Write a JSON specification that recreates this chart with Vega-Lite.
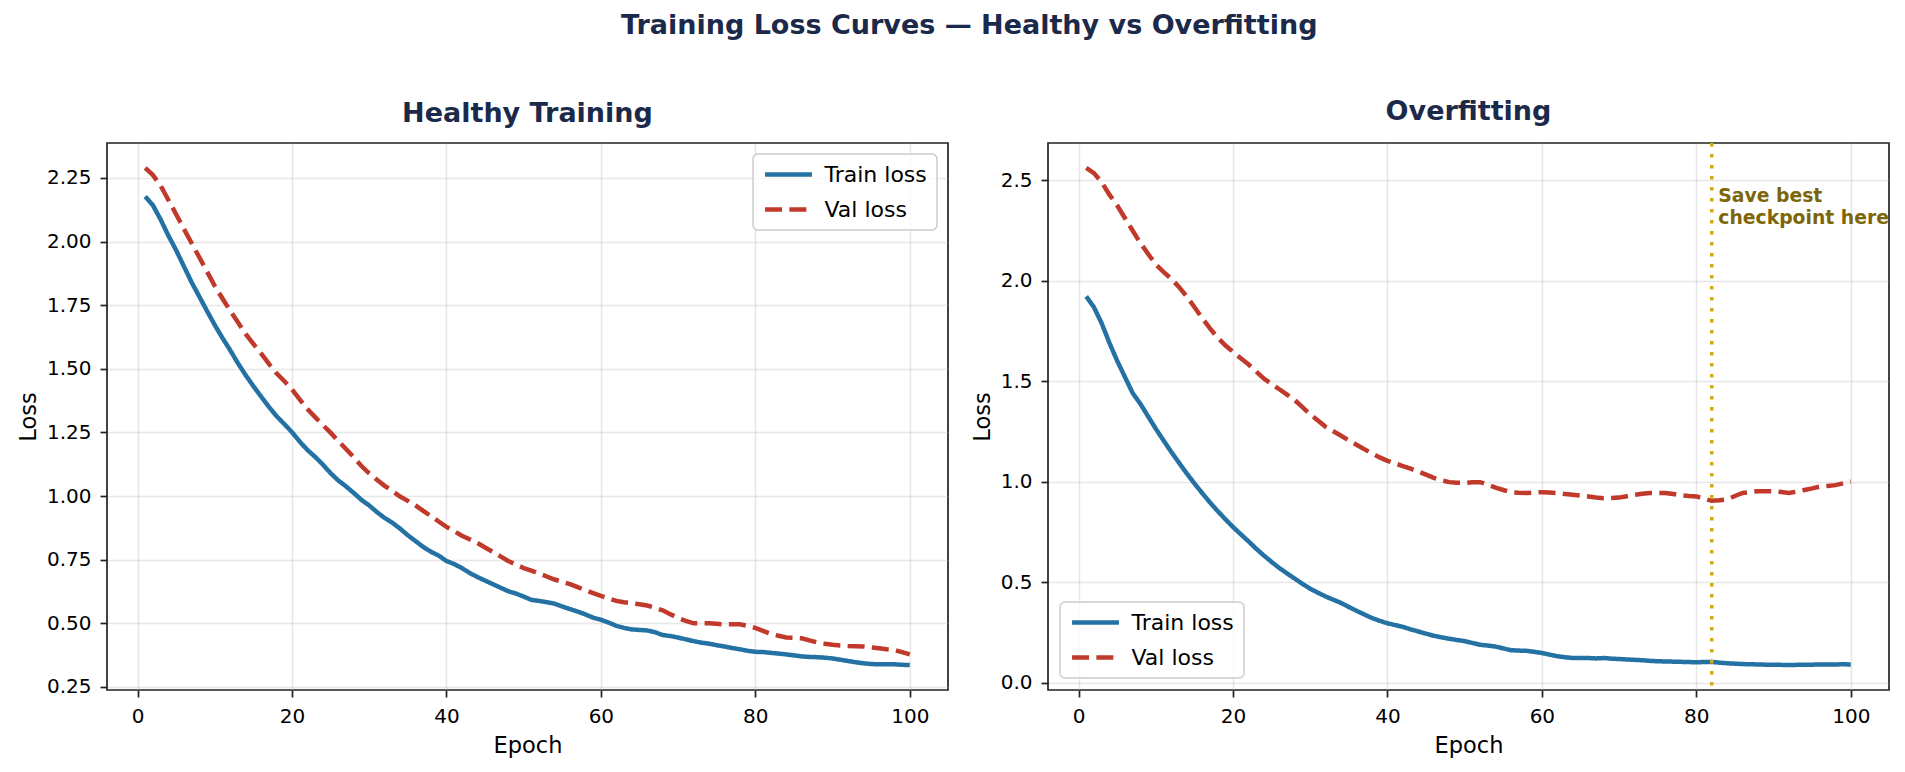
{
"$schema":"https://vega.github.io/schema/vega-lite/v6.json",
"background":"white",
"padding":{"left":16,"top":12,"right":16,"bottom":15},
"title":{"text":"Training Loss Curves — Healthy vs Overfitting","anchor":"middle","font":"DejaVu Sans","fontSize":27,"fontWeight":"bold","color":"#1b2a4a","offset":57,"dx":16},
"datasets":{
"healthy":[
{"epoch":1,"Train loss":2.177,"Val loss":2.289},{"epoch":2,"Train loss":2.142,"Val loss":2.261},{"epoch":3,"Train loss":2.086,"Val loss":2.219},{"epoch":4,"Train loss":2.023,"Val loss":2.163},{"epoch":5,"Train loss":1.966,"Val loss":2.107},{"epoch":6,"Train loss":1.903,"Val loss":2.05},{"epoch":7,"Train loss":1.84,"Val loss":1.994},{"epoch":8,"Train loss":1.784,"Val loss":1.938},{"epoch":9,"Train loss":1.727,"Val loss":1.882},{"epoch":10,"Train loss":1.672,"Val loss":1.826},
{"epoch":11,"Train loss":1.621,"Val loss":1.776},{"epoch":12,"Train loss":1.573,"Val loss":1.728},{"epoch":13,"Train loss":1.522,"Val loss":1.683},{"epoch":14,"Train loss":1.475,"Val loss":1.637},{"epoch":15,"Train loss":1.432,"Val loss":1.598},{"epoch":16,"Train loss":1.391,"Val loss":1.56},{"epoch":17,"Train loss":1.351,"Val loss":1.52},{"epoch":18,"Train loss":1.314,"Val loss":1.482},{"epoch":19,"Train loss":1.283,"Val loss":1.452},{"epoch":20,"Train loss":1.251,"Val loss":1.419},
{"epoch":21,"Train loss":1.214,"Val loss":1.38},{"epoch":22,"Train loss":1.181,"Val loss":1.342},{"epoch":23,"Train loss":1.154,"Val loss":1.31},{"epoch":24,"Train loss":1.124,"Val loss":1.279},{"epoch":25,"Train loss":1.09,"Val loss":1.249},{"epoch":26,"Train loss":1.061,"Val loss":1.216},{"epoch":27,"Train loss":1.038,"Val loss":1.185},{"epoch":28,"Train loss":1.012,"Val loss":1.152},{"epoch":29,"Train loss":0.985,"Val loss":1.118},{"epoch":30,"Train loss":0.963,"Val loss":1.089},
{"epoch":31,"Train loss":0.937,"Val loss":1.064},{"epoch":32,"Train loss":0.914,"Val loss":1.04},{"epoch":33,"Train loss":0.895,"Val loss":1.02},{"epoch":34,"Train loss":0.872,"Val loss":0.998},{"epoch":35,"Train loss":0.846,"Val loss":0.981},{"epoch":36,"Train loss":0.823,"Val loss":0.963},{"epoch":37,"Train loss":0.8,"Val loss":0.942},{"epoch":38,"Train loss":0.781,"Val loss":0.921},{"epoch":39,"Train loss":0.766,"Val loss":0.9},{"epoch":40,"Train loss":0.745,"Val loss":0.879},
{"epoch":41,"Train loss":0.733,"Val loss":0.862},{"epoch":42,"Train loss":0.717,"Val loss":0.844},{"epoch":43,"Train loss":0.698,"Val loss":0.83},{"epoch":44,"Train loss":0.682,"Val loss":0.816},{"epoch":45,"Train loss":0.668,"Val loss":0.798},{"epoch":46,"Train loss":0.654,"Val loss":0.781},{"epoch":47,"Train loss":0.64,"Val loss":0.763},{"epoch":48,"Train loss":0.626,"Val loss":0.745},{"epoch":49,"Train loss":0.617,"Val loss":0.731},{"epoch":50,"Train loss":0.605,"Val loss":0.717},
{"epoch":51,"Train loss":0.592,"Val loss":0.707},{"epoch":52,"Train loss":0.588,"Val loss":0.696},{"epoch":53,"Train loss":0.583,"Val loss":0.684},{"epoch":54,"Train loss":0.577,"Val loss":0.672},{"epoch":55,"Train loss":0.566,"Val loss":0.663},{"epoch":56,"Train loss":0.556,"Val loss":0.654},{"epoch":57,"Train loss":0.546,"Val loss":0.642},{"epoch":58,"Train loss":0.535,"Val loss":0.63},{"epoch":59,"Train loss":0.522,"Val loss":0.619},{"epoch":60,"Train loss":0.514,"Val loss":0.608},
{"epoch":61,"Train loss":0.503,"Val loss":0.598},{"epoch":62,"Train loss":0.49,"Val loss":0.588},{"epoch":63,"Train loss":0.482,"Val loss":0.583},{"epoch":64,"Train loss":0.476,"Val loss":0.579},{"epoch":65,"Train loss":0.474,"Val loss":0.575},{"epoch":66,"Train loss":0.472,"Val loss":0.57},{"epoch":67,"Train loss":0.465,"Val loss":0.561},{"epoch":68,"Train loss":0.454,"Val loss":0.551},{"epoch":69,"Train loss":0.45,"Val loss":0.536},{"epoch":70,"Train loss":0.444,"Val loss":0.521},
{"epoch":71,"Train loss":0.437,"Val loss":0.51},{"epoch":72,"Train loss":0.43,"Val loss":0.5},{"epoch":73,"Train loss":0.424,"Val loss":0.5},{"epoch":74,"Train loss":0.42,"Val loss":0.5},{"epoch":75,"Train loss":0.414,"Val loss":0.498},{"epoch":76,"Train loss":0.409,"Val loss":0.496},{"epoch":77,"Train loss":0.403,"Val loss":0.496},{"epoch":78,"Train loss":0.398,"Val loss":0.496},{"epoch":79,"Train loss":0.392,"Val loss":0.49},{"epoch":80,"Train loss":0.388,"Val loss":0.482},
{"epoch":81,"Train loss":0.387,"Val loss":0.47},{"epoch":82,"Train loss":0.384,"Val loss":0.458},{"epoch":83,"Train loss":0.381,"Val loss":0.451},{"epoch":84,"Train loss":0.378,"Val loss":0.444},{"epoch":85,"Train loss":0.374,"Val loss":0.443},{"epoch":86,"Train loss":0.37,"Val loss":0.441},{"epoch":87,"Train loss":0.368,"Val loss":0.433},{"epoch":88,"Train loss":0.367,"Val loss":0.425},{"epoch":89,"Train loss":0.365,"Val loss":0.42},{"epoch":90,"Train loss":0.362,"Val loss":0.416},
{"epoch":91,"Train loss":0.357,"Val loss":0.413},{"epoch":92,"Train loss":0.352,"Val loss":0.411},{"epoch":93,"Train loss":0.347,"Val loss":0.41},{"epoch":94,"Train loss":0.343,"Val loss":0.409},{"epoch":95,"Train loss":0.34,"Val loss":0.405},{"epoch":96,"Train loss":0.339,"Val loss":0.402},{"epoch":97,"Train loss":0.339,"Val loss":0.398},{"epoch":98,"Train loss":0.339,"Val loss":0.395},{"epoch":99,"Train loss":0.337,"Val loss":0.387},{"epoch":100,"Train loss":0.336,"Val loss":0.378}
],
"overfit":[
{"epoch":1,"Train loss":1.923,"Val loss":2.562},{"epoch":2,"Train loss":1.869,"Val loss":2.536},{"epoch":3,"Train loss":1.789,"Val loss":2.491},{"epoch":4,"Train loss":1.692,"Val loss":2.429},{"epoch":5,"Train loss":1.603,"Val loss":2.376},{"epoch":6,"Train loss":1.523,"Val loss":2.313},{"epoch":7,"Train loss":1.443,"Val loss":2.251},{"epoch":8,"Train loss":1.389,"Val loss":2.189},{"epoch":9,"Train loss":1.327,"Val loss":2.135},{"epoch":10,"Train loss":1.265,"Val loss":2.082},
{"epoch":11,"Train loss":1.207,"Val loss":2.045},{"epoch":12,"Train loss":1.15,"Val loss":2.011},{"epoch":13,"Train loss":1.096,"Val loss":1.97},{"epoch":14,"Train loss":1.043,"Val loss":1.923},{"epoch":15,"Train loss":0.993,"Val loss":1.87},{"epoch":16,"Train loss":0.945,"Val loss":1.816},{"epoch":17,"Train loss":0.899,"Val loss":1.765},{"epoch":18,"Train loss":0.856,"Val loss":1.718},{"epoch":19,"Train loss":0.815,"Val loss":1.68},{"epoch":20,"Train loss":0.776,"Val loss":1.647},
{"epoch":21,"Train loss":0.74,"Val loss":1.615},{"epoch":22,"Train loss":0.705,"Val loss":1.585},{"epoch":23,"Train loss":0.668,"Val loss":1.55},{"epoch":24,"Train loss":0.634,"Val loss":1.514},{"epoch":25,"Train loss":0.602,"Val loss":1.487},{"epoch":26,"Train loss":0.572,"Val loss":1.461},{"epoch":27,"Train loss":0.545,"Val loss":1.434},{"epoch":28,"Train loss":0.519,"Val loss":1.407},{"epoch":29,"Train loss":0.493,"Val loss":1.372},{"epoch":30,"Train loss":0.469,"Val loss":1.336},
{"epoch":31,"Train loss":0.449,"Val loss":1.305},{"epoch":32,"Train loss":0.43,"Val loss":1.274},{"epoch":33,"Train loss":0.414,"Val loss":1.252},{"epoch":34,"Train loss":0.398,"Val loss":1.23},{"epoch":35,"Train loss":0.378,"Val loss":1.207},{"epoch":36,"Train loss":0.359,"Val loss":1.185},{"epoch":37,"Train loss":0.341,"Val loss":1.163},{"epoch":38,"Train loss":0.323,"Val loss":1.141},{"epoch":39,"Train loss":0.309,"Val loss":1.122},{"epoch":40,"Train loss":0.297,"Val loss":1.105},
{"epoch":41,"Train loss":0.288,"Val loss":1.092},{"epoch":42,"Train loss":0.279,"Val loss":1.079},{"epoch":43,"Train loss":0.267,"Val loss":1.066},{"epoch":44,"Train loss":0.256,"Val loss":1.052},{"epoch":45,"Train loss":0.245,"Val loss":1.036},{"epoch":46,"Train loss":0.235,"Val loss":1.02},{"epoch":47,"Train loss":0.227,"Val loss":1.008},{"epoch":48,"Train loss":0.22,"Val loss":0.999},{"epoch":49,"Train loss":0.214,"Val loss":0.996},{"epoch":50,"Train loss":0.208,"Val loss":0.995},
{"epoch":51,"Train loss":0.199,"Val loss":0.998},{"epoch":52,"Train loss":0.19,"Val loss":0.999},{"epoch":53,"Train loss":0.186,"Val loss":0.986},{"epoch":54,"Train loss":0.181,"Val loss":0.972},{"epoch":55,"Train loss":0.172,"Val loss":0.96},{"epoch":56,"Train loss":0.163,"Val loss":0.949},{"epoch":57,"Train loss":0.161,"Val loss":0.946},{"epoch":58,"Train loss":0.16,"Val loss":0.945},{"epoch":59,"Train loss":0.155,"Val loss":0.947},{"epoch":60,"Train loss":0.149,"Val loss":0.949},
{"epoch":61,"Train loss":0.141,"Val loss":0.947},{"epoch":62,"Train loss":0.133,"Val loss":0.945},{"epoch":63,"Train loss":0.128,"Val loss":0.94},{"epoch":64,"Train loss":0.124,"Val loss":0.936},{"epoch":65,"Train loss":0.124,"Val loss":0.932},{"epoch":66,"Train loss":0.124,"Val loss":0.928},{"epoch":67,"Train loss":0.122,"Val loss":0.923},{"epoch":68,"Train loss":0.124,"Val loss":0.919},{"epoch":69,"Train loss":0.121,"Val loss":0.92},{"epoch":70,"Train loss":0.119,"Val loss":0.922},
{"epoch":71,"Train loss":0.117,"Val loss":0.929},{"epoch":72,"Train loss":0.115,"Val loss":0.936},{"epoch":73,"Train loss":0.113,"Val loss":0.941},{"epoch":74,"Train loss":0.11,"Val loss":0.945},{"epoch":75,"Train loss":0.108,"Val loss":0.945},{"epoch":76,"Train loss":0.107,"Val loss":0.945},{"epoch":77,"Train loss":0.106,"Val loss":0.94},{"epoch":78,"Train loss":0.105,"Val loss":0.933},{"epoch":79,"Train loss":0.104,"Val loss":0.93},{"epoch":80,"Train loss":0.103,"Val loss":0.928},
{"epoch":81,"Train loss":0.104,"Val loss":0.917},{"epoch":82,"Train loss":0.105,"Val loss":0.906},{"epoch":83,"Train loss":0.101,"Val loss":0.909},{"epoch":84,"Train loss":0.098,"Val loss":0.913},{"epoch":85,"Train loss":0.096,"Val loss":0.93},{"epoch":86,"Train loss":0.094,"Val loss":0.945},{"epoch":87,"Train loss":0.093,"Val loss":0.95},{"epoch":88,"Train loss":0.092,"Val loss":0.954},{"epoch":89,"Train loss":0.091,"Val loss":0.954},{"epoch":90,"Train loss":0.091,"Val loss":0.954},
{"epoch":91,"Train loss":0.09,"Val loss":0.95},{"epoch":92,"Train loss":0.089,"Val loss":0.945},{"epoch":93,"Train loss":0.09,"Val loss":0.952},{"epoch":94,"Train loss":0.091,"Val loss":0.96},{"epoch":95,"Train loss":0.091,"Val loss":0.968},{"epoch":96,"Train loss":0.092,"Val loss":0.977},{"epoch":97,"Train loss":0.092,"Val loss":0.98},{"epoch":98,"Train loss":0.092,"Val loss":0.984},{"epoch":99,"Train loss":0.093,"Val loss":0.993},{"epoch":100,"Train loss":0.092,"Val loss":1.002}
],
"best":[{"epoch":82,"loss":2.468,"label":"Save best\ncheckpoint here"}]
},
"spacing":21,
"hconcat":[
{
"width":841,"height":547,
"title":{"text":"Healthy Training"},
"data":{"name":"healthy"},
"transform":[{"fold":["Train loss","Val loss"],"as":["series","loss"]}],
"mark":{"type":"line","strokeWidth":4.5},
"encoding":{
"x":{"field":"epoch","type":"quantitative","scale":{"domain":[-3.95,104.95],"nice":false,"zero":false},"axis":{"values":[0,20,40,60,80,100],"title":"Epoch"}},
"y":{"field":"loss","type":"quantitative","scale":{"domain":[0.238,2.387],"nice":false,"zero":false},"axis":{"values":[0.25,0.5,0.75,1.0,1.25,1.5,1.75,2.0,2.25],"format":".2f","title":"Loss"}},
"color":{"field":"series","type":"nominal","scale":{"domain":["Train loss","Val loss"],"range":["#2471a3","#c0392b"]},"legend":{"orient":"top-right","offset":11,"title":null}},
"strokeDash":{"field":"series","type":"nominal","scale":{"domain":["Train loss","Val loss"],"range":[[1,0],[17,7.3]]},"legend":{"orient":"top-right","offset":11,"title":null}}
}
},
{
"width":841,"height":547,
"title":{"text":"Overfitting"},
"layer":[
{
"data":{"name":"overfit"},
"transform":[{"fold":["Train loss","Val loss"],"as":["series","loss"]}],
"mark":{"type":"line","strokeWidth":4.5},
"encoding":{
"x":{"field":"epoch","type":"quantitative","scale":{"domain":[-3.95,104.95],"nice":false,"zero":false},"axis":{"values":[0,20,40,60,80,100],"title":"Epoch"}},
"y":{"field":"loss","type":"quantitative","scale":{"domain":[-0.035,2.686],"nice":false,"zero":false},"axis":{"values":[0,0.5,1.0,1.5,2.0,2.5],"format":".1f","title":"Loss"}},
"color":{"field":"series","type":"nominal","scale":{"domain":["Train loss","Val loss"],"range":["#2471a3","#c0392b"]},"legend":{"orient":"bottom-left","offset":12,"title":null}},
"strokeDash":{"field":"series","type":"nominal","scale":{"domain":["Train loss","Val loss"],"range":[[1,0],[17,7.3]]},"legend":{"orient":"bottom-left","offset":12,"title":null}}
}
},
{
"data":{"name":"best"},
"mark":{"type":"rule","color":"#d4ac0d","strokeWidth":3.5,"strokeDash":[3.5,7.5]},
"encoding":{"x":{"field":"epoch","type":"quantitative"}}
},
{
"data":{"name":"best"},
"mark":{"type":"text","align":"left","baseline":"top","dx":6.5,"font":"DejaVu Sans","fontSize":18.8,"fontWeight":"bold","color":"#7d6608","lineBreak":"\n","lineHeight":22,"clip":true},
"encoding":{"x":{"field":"epoch","type":"quantitative"},"y":{"field":"loss","type":"quantitative"},"text":{"field":"label"}}
}
]
}
],
"resolve":{"scale":{"color":"independent","strokeDash":"independent"},"legend":{"color":"independent","strokeDash":"independent"}},
"config":{
"font":"DejaVu Sans",
"view":{"stroke":"#222222","strokeWidth":1.7},
"axis":{"labelFont":"DejaVu Sans","labelFontSize":20,"labelColor":"#000000","titleFont":"DejaVu Sans","titleFontSize":22.5,"titleFontWeight":"normal","titleColor":"#000000","tickColor":"#222222","tickSize":7,"tickWidth":1.7,"domain":false,"grid":true,"gridColor":"#b0b0b0","gridOpacity":0.3,"gridWidth":1.5,"labelPadding":9,"labelFlush":false,"labelOverlap":false},
"axisX":{"titlePadding":8},
"axisY":{"titlePadding":6},
"legend":{"labelFont":"DejaVu Sans","labelFontSize":22,"labelColor":"#000000","symbolType":"stroke","symbolSize":2200,"symbolStrokeWidth":4.5,"strokeColor":"#cccccc","strokeWidth":1.5,"fillColor":"rgba(255,255,255,0.8)","cornerRadius":5,"padding":9.5,"rowPadding":13,"labelOffset":10,"clipHeight":22},
"title":{"font":"DejaVu Sans","fontSize":27,"fontWeight":"bold","color":"#1b2a4a","offset":15}
}
}
